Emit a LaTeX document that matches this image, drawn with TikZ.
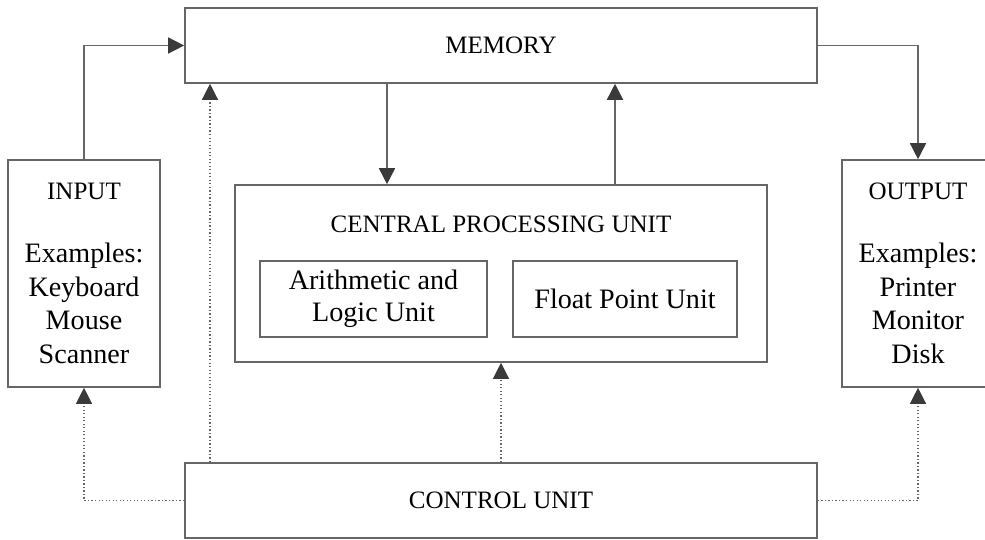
\documentclass[tikz,border=0pt]{standalone}
\usepackage{fontspec}
\setmainfont{Liberation Serif}
\usetikzlibrary{arrows.meta,positioning}
\definecolor{linegray}{HTML}{666666}
\definecolor{tipgray}{HTML}{3A3A3A}
\newcommand\itemfont{\fontsize{20}{23.8}\selectfont}
\tikzset{
  box/.style={draw=linegray, line width=1.1pt, inner sep=0pt, align=center},
  arr/.style={draw=linegray, line width=1.1pt, -{Triangle[length=0.4cm,width=0.4cm,color=tipgray]}},
  dots/.style={arr, line width=0.9pt, dash pattern=on 0.9pt off 1.6pt}
}
\begin{document}
\begin{tikzpicture}[x=0.025cm, y=-0.025cm, font=\fontsize{17.8}{23.8}\selectfont]
        \useasboundingbox (0,0) rectangle (985,539);
        \clip (0,0) rectangle (985,539);
        \node[box, minimum width=15.8cm, minimum height=1.875cm] (mem) at (501,45.5) {MEMORY};
        \node[box, minimum width=3.8cm, minimum height=5.675cm] (in) at (84,273.5) {INPUT\\[0.74cm]\itemfont Examples:\\\itemfont Keyboard\\\itemfont Mouse\\\itemfont Scanner};
        \node[box, minimum width=3.8cm, minimum height=5.675cm] (out) at (918,273.5) {OUTPUT\\[0.74cm]\itemfont Examples:\\\itemfont Printer\\\itemfont Monitor\\\itemfont Disk};
        \node[box, minimum width=13.3cm, minimum height=4.425cm] (cpu) at (501,273.5) {};
        \node (cputitle) at (501,224) {CENTRAL PROCESSING UNIT};
        \node[box, font=\itemfont, minimum width=5.675cm, minimum height=1.9cm] (alu) at (373.5,299) {Arithmetic and\\[-0.05cm]Logic Unit};
        \node[box, font=\itemfont, minimum width=5.6cm, minimum height=1.9cm] (fpu) at (625,299) {Float Point Unit};
        \node[box, minimum width=15.8cm, minimum height=1.875cm] (ctl) at (501,500.5) {CONTROL UNIT};
        \draw[arr] (in.north) |- (mem.west);
        \draw[arr] (mem.east) -| (out.north);
        \draw[arr] (mem.south -| 387,0) -- (cpu.north -| 387,0);
        \draw[arr] (cpu.north -| 615,0) -- (mem.south -| 615,0);
        \draw[dots] (ctl.north -| 210,0) -- (mem.south -| 210,0);
        \draw[dots] (ctl.north) -- (cpu.south);
        \draw[dots] (ctl.west) -| (in.south);
        \draw[dots] (ctl.east) -| (out.south);
    \end{tikzpicture}
\end{document}
